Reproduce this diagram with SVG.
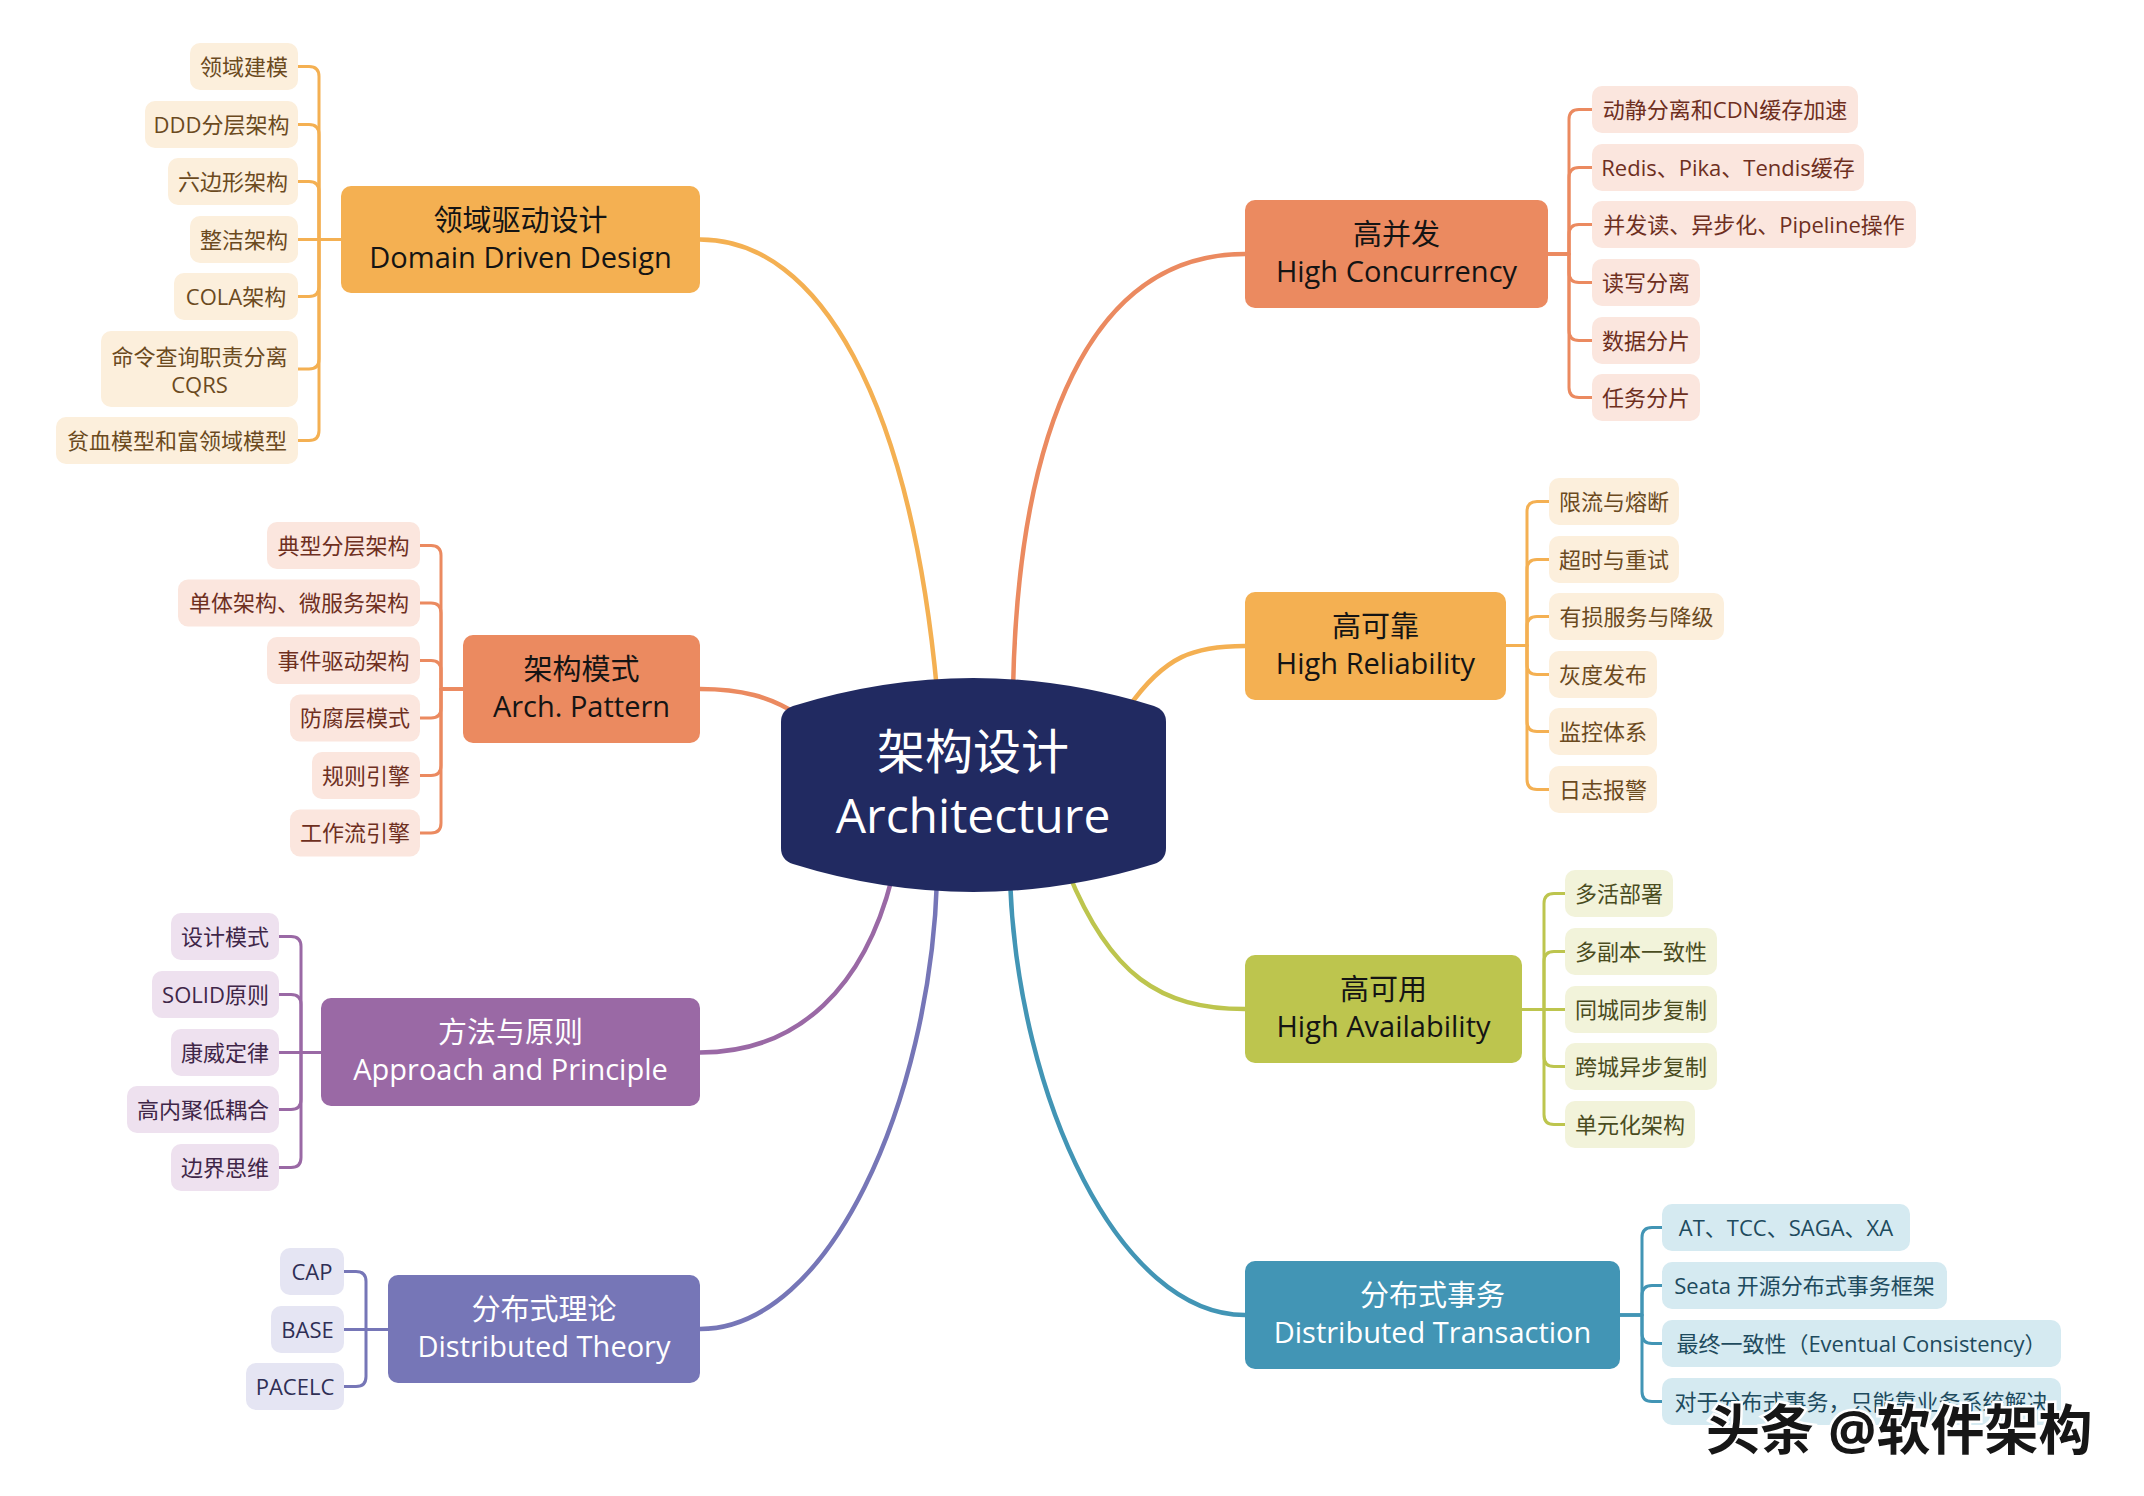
<svg xmlns="http://www.w3.org/2000/svg" width="2144" height="1496" viewBox="0 0 2144 1496">
<style>
text { font-family: "Open Sans", "Noto Sans CJK SC", sans-serif; text-anchor: middle; }
.main { font-size: 29px; }
.center { font-size: 48px; fill: #ffffff; }
.sub { font-size: 22px; }
.dark { fill: #141414; }
.light { fill: #ffffff; }
.conn { fill: none; stroke-width: 3; stroke-linecap: round; stroke-linejoin: round; }
.trunk { fill: none; stroke-width: 4.5; stroke-linecap: round; }
.s-or { stroke: #F4B052; } .s-sa { stroke: #EB8A60; } .s-pu { stroke: #9A69A5; }
.s-vi { stroke: #7676B7; } .s-gr { stroke: #BDC54E; } .s-bl { stroke: #4295B5; }
.m-or { fill: #F4B052; } .m-sa { fill: #EB8A60; } .m-pu { fill: #9A69A5; }
.m-vi { fill: #7676B7; } .m-gr { fill: #BDC54E; } .m-bl { fill: #4295B5; }
.b-or { fill: #FCEFDC; } .t-or { fill: #6B4A1E; }
.b-sa { fill: #FBE6DE; } .t-sa { fill: #6E2F1E; }
.b-pu { fill: #EEE1EF; } .t-pu { fill: #3F2648; }
.b-vi { fill: #E5E5F3; } .t-vi { fill: #2F2F55; }
.b-gr { fill: #F2F3DA; } .t-gr { fill: #4A4C1E; }
.b-bl { fill: #D5EAF1; } .t-bl { fill: #1E4B5E; }
.wm { font-size: 54px; font-weight: 700; text-anchor: start; fill: #161616; stroke: #ffffff; stroke-width: 5; paint-order: stroke; }
</style>
<rect width="2144" height="1496" fill="#ffffff"/>

<g id="connectors">
  <path class="trunk s-or" d="M700 239.5 C820 239.5 910 400 937 690"/>
  <path class="trunk s-sa" d="M1013 690 C1018 430 1090 254 1245 254"/>
  <path class="trunk s-sa" d="M700 689 C740 689 770 696 800 716"/>
  <path class="trunk s-or" d="M1128 708 C1165 655 1195 646 1245 646"/>
  <path class="trunk s-pu" d="M892 878 C865 985 800 1052.5 700 1052.5"/>
  <path class="trunk s-vi" d="M937 880 C930 1100 830 1329 700 1329"/>
  <path class="trunk s-gr" d="M1068 872 C1110 975 1160 1009 1245 1009"/>
  <path class="trunk s-bl" d="M1010 880 C1018 1100 1120 1315 1245 1315"/>
  <path class="conn s-or" d="M341 239.5 H319 V76.5 Q319 66.5 309 66.5 H298"/>
  <path class="conn s-or" d="M341 239.5 H319 V134.5 Q319 124.5 309 124.5 H298"/>
  <path class="conn s-or" d="M341 239.5 H319 V191.5 Q319 181.5 309 181.5 H298"/>
  <path class="conn s-or" d="M341 239.5 H298"/>
  <path class="conn s-or" d="M341 239.5 H319 V286.5 Q319 296.5 309 296.5 H298"/>
  <path class="conn s-or" d="M341 239.5 H319 V359 Q319 369 309 369 H298"/>
  <path class="conn s-or" d="M341 239.5 H319 V430.5 Q319 440.5 309 440.5 H298"/>
  <path class="conn s-sa" d="M463 689 H441 V555.5 Q441 545.5 431 545.5 H420"/>
  <path class="conn s-sa" d="M463 689 H441 V613 Q441 603 431 603 H420"/>
  <path class="conn s-sa" d="M463 689 H441 V670.5 Q441 660.5 431 660.5 H420"/>
  <path class="conn s-sa" d="M463 689 H441 V708 Q441 718 431 718 H420"/>
  <path class="conn s-sa" d="M463 689 H441 V765.5 Q441 775.5 431 775.5 H420"/>
  <path class="conn s-sa" d="M463 689 H441 V823 Q441 833 431 833 H420"/>
  <path class="conn s-pu" d="M321 1052.5 H301 V946.5 Q301 936.5 291 936.5 H279"/>
  <path class="conn s-pu" d="M321 1052.5 H301 V1004.5 Q301 994.5 291 994.5 H279"/>
  <path class="conn s-pu" d="M321 1052.5 H279"/>
  <path class="conn s-pu" d="M321 1052.5 H301 V1099.5 Q301 1109.5 291 1109.5 H279"/>
  <path class="conn s-pu" d="M321 1052.5 H301 V1157.5 Q301 1167.5 291 1167.5 H279"/>
  <path class="conn s-vi" d="M388 1329.5 H366 V1281.5 Q366 1271.5 356 1271.5 H344"/>
  <path class="conn s-vi" d="M388 1329.5 H344"/>
  <path class="conn s-vi" d="M388 1329.5 H366 V1376.5 Q366 1386.5 356 1386.5 H344"/>
  <path class="conn s-sa" d="M1548 254 H1569 V119.5 Q1569 109.5 1579 109.5 H1592"/>
  <path class="conn s-sa" d="M1548 254 H1569 V177.5 Q1569 167.5 1579 167.5 H1592"/>
  <path class="conn s-sa" d="M1548 254 H1569 V234.5 Q1569 224.5 1579 224.5 H1592"/>
  <path class="conn s-sa" d="M1548 254 H1569 V272.5 Q1569 282.5 1579 282.5 H1592"/>
  <path class="conn s-sa" d="M1548 254 H1569 V330.5 Q1569 340.5 1579 340.5 H1592"/>
  <path class="conn s-sa" d="M1548 254 H1569 V387.5 Q1569 397.5 1579 397.5 H1592"/>
  <path class="conn s-or" d="M1506 645.5 H1527 V511.5 Q1527 501.5 1537 501.5 H1549"/>
  <path class="conn s-or" d="M1506 645.5 H1527 V569.5 Q1527 559.5 1537 559.5 H1549"/>
  <path class="conn s-or" d="M1506 645.5 H1527 V626.5 Q1527 616.5 1537 616.5 H1549"/>
  <path class="conn s-or" d="M1506 645.5 H1527 V664.5 Q1527 674.5 1537 674.5 H1549"/>
  <path class="conn s-or" d="M1506 645.5 H1527 V721.5 Q1527 731.5 1537 731.5 H1549"/>
  <path class="conn s-or" d="M1506 645.5 H1527 V779.5 Q1527 789.5 1537 789.5 H1549"/>
  <path class="conn s-gr" d="M1522 1009.5 H1544 V903.5 Q1544 893.5 1554 893.5 H1565"/>
  <path class="conn s-gr" d="M1522 1009.5 H1544 V961.5 Q1544 951.5 1554 951.5 H1565"/>
  <path class="conn s-gr" d="M1522 1009.5 H1565"/>
  <path class="conn s-gr" d="M1522 1009.5 H1544 V1056.5 Q1544 1066.5 1554 1066.5 H1565"/>
  <path class="conn s-gr" d="M1522 1009.5 H1544 V1114.5 Q1544 1124.5 1554 1124.5 H1565"/>
  <path class="conn s-bl" d="M1620 1315 H1642 V1237.5 Q1642 1227.5 1652 1227.5 H1662"/>
  <path class="conn s-bl" d="M1620 1315 H1642 V1295.5 Q1642 1285.5 1652 1285.5 H1662"/>
  <path class="conn s-bl" d="M1620 1315 H1642 V1333.5 Q1642 1343.5 1652 1343.5 H1662"/>
  <path class="conn s-bl" d="M1620 1315 H1642 V1391.5 Q1642 1401.5 1652 1401.5 H1662"/>
</g>

<g id="center">
  <path fill="#212A61" d="M781 722 Q781 710 793 706 Q973 650 1154 706 Q1166 710 1166 722 V848 Q1166 860 1154 864 Q973 920 793 864 Q781 860 781 848 Z"/>
  <text class="center" x="973" y="769">架构设计</text>
  <text class="center" x="973" y="833">Architecture</text>
</g>

<g id="ddd">
  <rect class="m-or" x="341" y="186" width="359" height="107" rx="10"/>
  <text class="main dark" x="520.5" y="231">领域驱动设计</text>
  <text class="main dark" x="520.5" y="268">Domain Driven Design</text>
</g>
<g id="arch">
  <rect class="m-sa" x="463" y="635" width="237" height="108" rx="10"/>
  <text class="main dark" x="581.5" y="680">架构模式</text>
  <text class="main dark" x="581.5" y="717">Arch. Pattern</text>
</g>
<g id="approach">
  <rect class="m-pu" x="321" y="998" width="379" height="108" rx="10"/>
  <text class="main light" x="510.5" y="1043">方法与原则</text>
  <text class="main light" x="510.5" y="1080">Approach and Principle</text>
</g>
<g id="dtheory">
  <rect class="m-vi" x="388" y="1275" width="312" height="108" rx="10"/>
  <text class="main light" x="544" y="1320">分布式理论</text>
  <text class="main light" x="544" y="1357">Distributed Theory</text>
</g>
<g id="hc">
  <rect class="m-sa" x="1245" y="200" width="303" height="108" rx="10"/>
  <text class="main dark" x="1396.5" y="245">高并发</text>
  <text class="main dark" x="1396.5" y="282">High Concurrency</text>
</g>
<g id="hr">
  <rect class="m-or" x="1245" y="592" width="261" height="108" rx="10"/>
  <text class="main dark" x="1375.5" y="637">高可靠</text>
  <text class="main dark" x="1375.5" y="674">High Reliability</text>
</g>
<g id="ha">
  <rect class="m-gr" x="1245" y="955" width="277" height="108" rx="10"/>
  <text class="main dark" x="1383.5" y="1000">高可用</text>
  <text class="main dark" x="1383.5" y="1037">High Availability</text>
</g>
<g id="dtx">
  <rect class="m-bl" x="1245" y="1261" width="375" height="108" rx="10"/>
  <text class="main light" x="1432.5" y="1306">分布式事务</text>
  <text class="main light" x="1432.5" y="1343">Distributed Transaction</text>
</g>

<g id="ddd-1"><rect class="b-or" x="190" y="43" width="108" height="47" rx="10"/><text class="sub t-or" x="244" y="74.5">领域建模</text></g>
<g id="ddd-2"><rect class="b-or" x="145" y="101" width="153" height="47" rx="10"/><text class="sub t-or" x="221.5" y="132.5">DDD分层架构</text></g>
<g id="ddd-3"><rect class="b-or" x="168" y="158" width="130" height="47" rx="10"/><text class="sub t-or" x="233" y="189.5">六边形架构</text></g>
<g id="ddd-4"><rect class="b-or" x="190" y="216" width="108" height="47" rx="10"/><text class="sub t-or" x="244" y="247.5">整洁架构</text></g>
<g id="ddd-5"><rect class="b-or" x="174" y="273" width="124" height="47" rx="10"/><text class="sub t-or" x="236" y="304.5">COLA架构</text></g>
<g id="ddd-6"><rect class="b-or" x="101" y="331" width="197" height="76" rx="10"/><text class="sub t-or" x="199.5" y="365">命令查询职责分离</text><text class="sub t-or" x="199.5" y="393">CQRS</text></g>
<g id="ddd-7"><rect class="b-or" x="56" y="417" width="242" height="47" rx="10"/><text class="sub t-or" x="177" y="448.5">贫血模型和富领域模型</text></g>

<g id="arch-1"><rect class="b-sa" x="267" y="522" width="153" height="47" rx="10"/><text class="sub t-sa" x="343.5" y="553.5">典型分层架构</text></g>
<g id="arch-2"><rect class="b-sa" x="178" y="579.5" width="242" height="47" rx="10"/><text class="sub t-sa" x="299" y="611">单体架构、微服务架构</text></g>
<g id="arch-3"><rect class="b-sa" x="267" y="637" width="153" height="47" rx="10"/><text class="sub t-sa" x="343.5" y="668.5">事件驱动架构</text></g>
<g id="arch-4"><rect class="b-sa" x="290" y="694.5" width="130" height="47" rx="10"/><text class="sub t-sa" x="355" y="726">防腐层模式</text></g>
<g id="arch-5"><rect class="b-sa" x="312" y="752" width="108" height="47" rx="10"/><text class="sub t-sa" x="366" y="783.5">规则引擎</text></g>
<g id="arch-6"><rect class="b-sa" x="290" y="809.5" width="130" height="47" rx="10"/><text class="sub t-sa" x="355" y="841">工作流引擎</text></g>

<g id="app-1"><rect class="b-pu" x="171" y="913" width="108" height="47" rx="10"/><text class="sub t-pu" x="225" y="944.5">设计模式</text></g>
<g id="app-2"><rect class="b-pu" x="152" y="971" width="127" height="47" rx="10"/><text class="sub t-pu" x="215.5" y="1002.5">SOLID原则</text></g>
<g id="app-3"><rect class="b-pu" x="171" y="1029" width="108" height="47" rx="10"/><text class="sub t-pu" x="225" y="1060.5">康威定律</text></g>
<g id="app-4"><rect class="b-pu" x="127" y="1086" width="152" height="47" rx="10"/><text class="sub t-pu" x="203" y="1117.5">高内聚低耦合</text></g>
<g id="app-5"><rect class="b-pu" x="171" y="1144" width="108" height="47" rx="10"/><text class="sub t-pu" x="225" y="1175.5">边界思维</text></g>

<g id="dt-1"><rect class="b-vi" x="280" y="1248" width="64" height="47" rx="10"/><text class="sub t-vi" x="312" y="1279.5">CAP</text></g>
<g id="dt-2"><rect class="b-vi" x="271" y="1306" width="73" height="47" rx="10"/><text class="sub t-vi" x="307.5" y="1337.5">BASE</text></g>
<g id="dt-3"><rect class="b-vi" x="246" y="1363" width="98" height="47" rx="10"/><text class="sub t-vi" x="295" y="1394.5">PACELC</text></g>

<g id="hc-1"><rect class="b-sa" x="1592" y="86" width="266" height="47" rx="10"/><text class="sub t-sa" x="1725" y="117.5">动静分离和CDN缓存加速</text></g>
<g id="hc-2"><rect class="b-sa" x="1592" y="144" width="272" height="47" rx="10"/><text class="sub t-sa" x="1728" y="175.5">Redis、Pika、Tendis缓存</text></g>
<g id="hc-3"><rect class="b-sa" x="1592" y="201" width="324" height="47" rx="10"/><text class="sub t-sa" x="1754" y="232.5">并发读、异步化、Pipeline操作</text></g>
<g id="hc-4"><rect class="b-sa" x="1592" y="259" width="108" height="47" rx="10"/><text class="sub t-sa" x="1646" y="290.5">读写分离</text></g>
<g id="hc-5"><rect class="b-sa" x="1592" y="317" width="108" height="47" rx="10"/><text class="sub t-sa" x="1646" y="348.5">数据分片</text></g>
<g id="hc-6"><rect class="b-sa" x="1592" y="374" width="108" height="47" rx="10"/><text class="sub t-sa" x="1646" y="405.5">任务分片</text></g>

<g id="hr-1"><rect class="b-or" x="1549" y="478" width="130" height="47" rx="10"/><text class="sub t-or" x="1614" y="509.5">限流与熔断</text></g>
<g id="hr-2"><rect class="b-or" x="1549" y="536" width="130" height="47" rx="10"/><text class="sub t-or" x="1614" y="567.5">超时与重试</text></g>
<g id="hr-3"><rect class="b-or" x="1549" y="593" width="175" height="47" rx="10"/><text class="sub t-or" x="1636.5" y="624.5">有损服务与降级</text></g>
<g id="hr-4"><rect class="b-or" x="1549" y="651" width="108" height="47" rx="10"/><text class="sub t-or" x="1603" y="682.5">灰度发布</text></g>
<g id="hr-5"><rect class="b-or" x="1549" y="708" width="108" height="47" rx="10"/><text class="sub t-or" x="1603" y="739.5">监控体系</text></g>
<g id="hr-6"><rect class="b-or" x="1549" y="766" width="108" height="47" rx="10"/><text class="sub t-or" x="1603" y="797.5">日志报警</text></g>

<g id="ha-1"><rect class="b-gr" x="1565" y="870" width="108" height="47" rx="10"/><text class="sub t-gr" x="1619" y="901.5">多活部署</text></g>
<g id="ha-2"><rect class="b-gr" x="1565" y="928" width="152" height="47" rx="10"/><text class="sub t-gr" x="1641" y="959.5">多副本一致性</text></g>
<g id="ha-3"><rect class="b-gr" x="1565" y="986" width="152" height="47" rx="10"/><text class="sub t-gr" x="1641" y="1017.5">同城同步复制</text></g>
<g id="ha-4"><rect class="b-gr" x="1565" y="1043" width="152" height="47" rx="10"/><text class="sub t-gr" x="1641" y="1074.5">跨城异步复制</text></g>
<g id="ha-5"><rect class="b-gr" x="1565" y="1101" width="130" height="47" rx="10"/><text class="sub t-gr" x="1630" y="1132.5">单元化架构</text></g>

<g id="dtx-1"><rect class="b-bl" x="1662" y="1204" width="248" height="47" rx="10"/><text class="sub t-bl" x="1786" y="1235.5">AT、TCC、SAGA、XA</text></g>
<g id="dtx-2"><rect class="b-bl" x="1662" y="1262" width="285" height="47" rx="10"/><text class="sub t-bl" x="1804.5" y="1293.5">Seata 开源分布式事务框架</text></g>
<g id="dtx-3"><rect class="b-bl" x="1662" y="1320" width="399" height="47" rx="10"/><text class="sub t-bl" x="1861.5" y="1351.5">最终一致性（Eventual Consistency）</text></g>
<g id="dtx-4"><rect class="b-bl" x="1662" y="1378" width="399" height="47" rx="10"/><text class="sub t-bl" x="1861.5" y="1409.5">对于分布式事务，只能靠业务系统解决</text></g>

<g id="watermark">
  <text class="wm" x="1706" y="1450">头条 @软件架构</text>
</g>
</svg>
